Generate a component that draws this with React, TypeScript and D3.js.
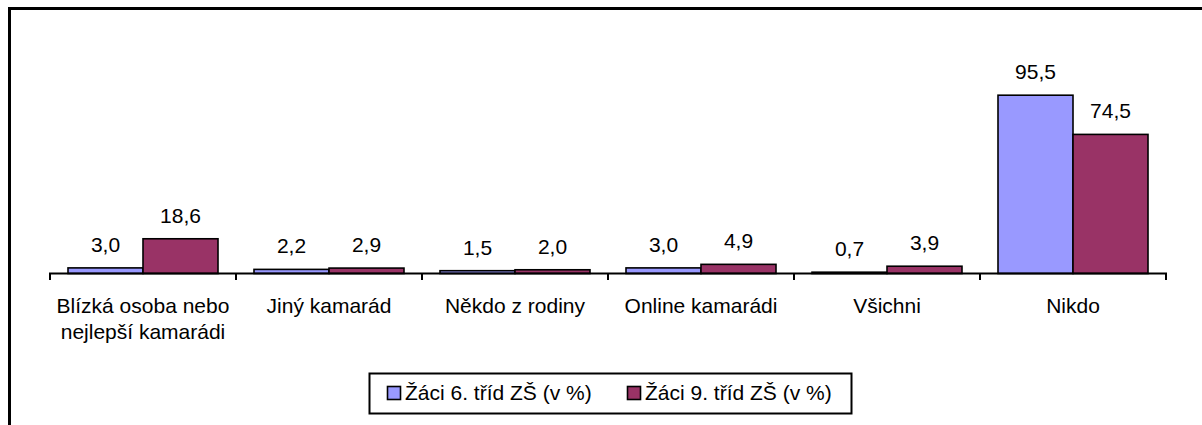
import React from "react";
import * as d3 from "d3";

const categories: string[][] = [
  ["Blízká osoba nebo", "nejlepší kamarádi"],
  ["Jiný kamarád"],
  ["Někdo z rodiny"],
  ["Online kamarádi"],
  ["Všichni"],
  ["Nikdo"],
];
const seriesNames = ["Žáci 6. tříd ZŠ (v %)", "Žáci 9. tříd ZŠ (v %)"];
const grade6 = [3.0, 2.2, 1.5, 3.0, 0.7, 95.5];
const grade9 = [18.6, 2.9, 2.0, 4.9, 3.9, 74.5];
const seriesColors = ["#9999FF", "#993366"];
const yDomain = [0, 100];

const W = 1202;
const H = 425;
const FONT = "'Liberation Sans', Arial, sans-serif";
const FS = 21;

export default function App() {
  const series = [grade6, grade9];
  const catKeys = categories.map((c) => c.join(" "));
  const x0 = d3.scaleBand<string>().domain(catKeys).range([50, 1166]).padding(0);
  const x1 = d3
    .scaleBand<number>()
    .domain(series.map((_, i) => i))
    .range([18, x0.bandwidth() - 18])
    .padding(0);
  const y = d3.scaleLinear().domain(yDomain).range([273.5, 86.8]);
  const fmt = (v: number) => d3.format(".1f")(v).replace(".", ",");
  const baseY = y(0);

  return (
    <svg
      width={W}
      height={H}
      style={{ position: "absolute", left: 0, top: 0, display: "block" }}
      fontFamily={FONT}
    >
      <rect x={0} y={0} width={W} height={H} fill="#fff" />
      {/* outer border: top and left only */}
      <line x1={9.5} y1={8.5} x2={W} y2={8.5} stroke="#000" strokeWidth={3} />
      <line x1={9.5} y1={7} x2={9.5} y2={H} stroke="#000" strokeWidth={3} />

      {/* bars */}
      {catKeys.map((k, ci) => (
        <g key={k} transform={`translate(${x0(k)},0)`}>
          {series.map((s, si) => {
            const v = s[ci];
            const top = y(v);
            return (
              <g key={si}>
                <rect
                  x={x1(si)!}
                  y={top}
                  width={x1.bandwidth()}
                  height={baseY - top}
                  fill={seriesColors[si]}
                  stroke="#000"
                  strokeWidth={1.6}
                />
                <text
                  x={x1(si)! + x1.bandwidth() / 2}
                  y={top - 16}
                  textAnchor="middle"
                  fontSize={FS}
                  fill="#000"
                >
                  {fmt(v)}
                </text>
              </g>
            );
          })}
        </g>
      ))}

      {/* x axis */}
      <line x1={49} y1={baseY} x2={1167} y2={baseY} stroke="#000" strokeWidth={2} />
      {[...catKeys.map((k) => x0(k)!), 1166].map((t, i) => (
        <line key={i} x1={t} y1={baseY} x2={t} y2={baseY + 6.5} stroke="#000" strokeWidth={2} />
      ))}
      {categories.map((lines, ci) => (
        <text
          key={ci}
          x={x0(catKeys[ci])! + x0.bandwidth() / 2}
          y={312.5}
          textAnchor="middle"
          fontSize={FS}
          fill="#000"
        >
          {lines.map((ln, li) => (
            <tspan key={li} x={x0(catKeys[ci])! + x0.bandwidth() / 2} dy={li === 0 ? 0 : 26.5}>
              {ln}
            </tspan>
          ))}
        </text>
      ))}

      {/* legend */}
      <rect x={369.5} y={373.5} width={482} height={40} fill="#fff" stroke="#000" strokeWidth={2} />
      {seriesNames.map((name, i) => {
        const lx = i === 0 ? 387.5 : 627.5;
        return (
          <g key={name}>
            <rect x={lx} y={386.5} width={13} height={13} fill={seriesColors[i]} stroke="#000" strokeWidth={1.6} />
            <text x={lx + 17.5} y={399.5} fontSize={FS} fill="#000">
              {name}
            </text>
          </g>
        );
      })}
    </svg>
  );
}
